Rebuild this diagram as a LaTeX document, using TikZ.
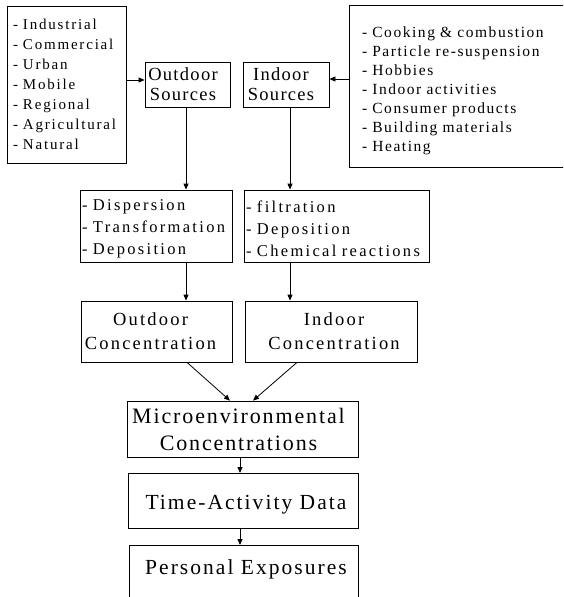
\documentclass[tikz,border=0pt]{standalone}
\usepackage{fontspec}
\setmainfont{Liberation Serif}
\usetikzlibrary{arrows.meta}
\newcommand{\fsz}[3]{\fontsize{#1}{#2}\selectfont\addfontfeatures{LetterSpace=#3}}
\newcommand{\padL}[1]{\rule{#1}{0pt}}
\begin{document}
\begin{tikzpicture}[x=1pt,y=-1pt,
  box/.style={draw, line width=0.8pt, inner sep=0pt},
  arr/.style={line width=0.8pt, -{Triangle[length=6pt,width=5pt]}}]
\fill[white] (0,0) rectangle (563,597);
\useasboundingbox (0,0) rectangle (563,597);
\clip (0,0) rectangle (563,597);

% source lists
\node[box, minimum width=119, minimum height=157, text width=107, align=left,
      font={\fsz{15}{20}{12}}] (L) at (66.5,84.5)
  {-~Industrial\\-~Commercial\\-~Urban\\-~Mobile\\-~Regional\\-~Agricultural\\-~Natural};
\node[box, minimum width=226, minimum height=162, text width=200, align=left,
      font={\fsz{15.5}{19.1}{10}}] (R) at (462,86)
  {\rule{0pt}{20.6pt}-~Cooking~\&~combustion\\-~Particle~re-suspension\\-~Hobbies\\-~Indoor~activities\\-~Consumer~products\\-~Building~materials\\-~Heating};

% sources
\node[box, minimum width=85, minimum height=45, align=center,
      font={\fsz{18.5}{20}{7}}] (OS) at (187.5,84.5)
  {Outdoor\padL{9pt}\\Sources\padL{9pt}};
\node[box, minimum width=86, minimum height=45, align=center,
      font={\fsz{18.5}{20}{7}}] (IS) at (286,84.5)
  {Indoor\padL{10pt}\\Sources\padL{10pt}};

% processes
\node[box, minimum width=152, minimum height=72, text width=148, align=left,
      font={\fsz{16.5}{22}{14}}] (ML) at (156,226)
  {\rule{0pt}{17.3pt}-~Dispersion\\-~Transformation\\-~Deposition};
\node[box, minimum width=185, minimum height=72, text width=181, align=left,
      font={\fsz{16.5}{22}{14}}] (MR) at (336.5,226)
  {\rule{0pt}{17.3pt}-~filtration\\-~Deposition\\-~Chemical~reactions};

% concentrations
\node[box, minimum width=151, minimum height=61, align=center,
      font={\fsz{18.5}{24}{12}}] (OC) at (156.5,331.5)
  {Outdoor\padL{12pt}\\Concentration\padL{12pt}};
\node[box, minimum width=172, minimum height=61, align=center,
      font={\fsz{18.5}{24}{12}}] (IC) at (331,331.5)
  {\padL{6pt}Indoor\\\padL{6pt}Concentration};

\node[box, minimum width=231, minimum height=56, align=center,
      font={\fsz{22}{27}{8.5}}] (MC) at (242.5,429)
  {Microenvironmental\padL{8pt}\\Concentrations\padL{8pt}};
\node[box, minimum width=230, text height=36, text depth=19, anchor=north,
      font={\fsz{21.5}{25}{9.5}}] (TA) at (243,473) {\padL{6pt}Time-Activity Data};
\node[box, minimum width=229, text height=29, text depth=46, anchor=north,
      font={\fsz{21.5}{25}{9.5}}] (PE) at (243.5,545) {\padL{5pt}Personal Exposures};

% helper coordinates
\coordinate (ya) at (0,80);
\coordinate (yb) at (0,79);
\coordinate (xa) at (186,0);
\coordinate (xb) at (290,0);
\coordinate (d1) at (187,0);
\coordinate (d2) at (230,0);
\coordinate (d3) at (297,0);
\coordinate (d4) at (253,0);
\coordinate (xc) at (240,0);

\draw[arr] (L.east |- ya) -- (OS.west |- ya);
\draw[arr] (R.west |- yb) -- (IS.east |- yb);
\draw[arr] (OS.south -| xa) -- (ML.north -| xa);
\draw[arr] (IS.south -| xb) -- (MR.north -| xb);
\draw[arr] (ML.south -| xa) -- (OC.north -| xa);
\draw[arr] (MR.south -| xb) -- (IC.north -| xb);
\draw[arr] (OC.south -| d1) -- (MC.north -| d2);
\draw[arr] (IC.south -| d3) -- (MC.north -| d4);
\draw[arr] (MC.south -| xc) -- (TA.north -| xc);
\draw[arr] (TA.south -| xc) -- (PE.north -| xc);
\end{tikzpicture}
\end{document}
